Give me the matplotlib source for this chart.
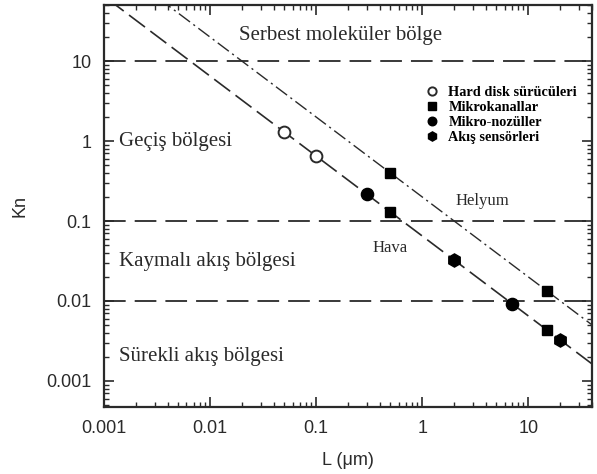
import numpy as np
import matplotlib
matplotlib.use("Agg")
import matplotlib.pyplot as plt
from matplotlib.ticker import LogLocator, NullFormatter, FixedLocator

# mean free path (um) for each gas, Kn = lambda / L
lam_air = 0.065
lam_he = 0.2

# device points (L in um)
hdd_L = [0.05, 0.1]
mchan_air_L = [0.5, 15]
mchan_he_L = [0.5, 15]
nozzle_L = [0.3, 7]
sensor_L = [2, 20]

regime_bounds = [10, 0.1, 0.01]
x_ticks = [0.001, 0.01, 0.1, 1, 10]
x_ticklabels = ["0.001", "0.01", "0.1", "1", "10"]
y_ticks = [0.001, 0.01, 0.1, 1, 10]
y_ticklabels = ["0.001", "0.01", "0.1", "1", "10"]

xmin, xmax = 0.001, 40
ymin, ymax = 4.7e-4, 50

col = "#2a2a2a"
serif = "Liberation Serif"
sans = "Liberation Sans"

fig = plt.figure(figsize=(5.97, 4.74), dpi=100)
ax = fig.add_axes([0.174, 0.141, 0.818, 0.848])
ax.set_xscale("log")
ax.set_yscale("log")
ax.set_xlim(xmin, xmax)
ax.set_ylim(ymin, ymax)

for b in regime_bounds:
    ax.axhline(b, color=col, lw=1.3, dashes=(12, 5))

L = np.logspace(np.log10(xmin), np.log10(xmax), 50)
ax.plot(L, lam_air / L, color=col, lw=1.2, dashes=(12, 4))
ax.plot(L, lam_he / L, color=col, lw=1.0, dashes=(10, 3, 1.5, 3))

ms = 8.5
hdd_Kn = [lam_air / v for v in hdd_L]
ax.plot(hdd_L, hdd_Kn, "o", mfc="white", mec=col, mew=1.4, ms=ms, ls="none",
        label="Hard disk sürücüleri")
ax.plot(mchan_air_L, [lam_air / v for v in mchan_air_L], "s", color="black",
        ms=ms - 0.8, ls="none", label="Mikrokanallar")
ax.plot(mchan_he_L, [lam_he / v for v in mchan_he_L], "s", color="black",
        ms=ms - 0.8, ls="none")
ax.plot(nozzle_L, [lam_air / v for v in nozzle_L], "o", color="black",
        ms=ms + 0.3, ls="none", label="Mikro-nozüller")
ax.plot(sensor_L, [lam_air / v for v in sensor_L], "h", color="black",
        ms=ms + 1, ls="none", label="Akış sensörleri")

leg = ax.legend(loc="upper right", bbox_to_anchor=(0.995, 0.83), frameon=False,
                prop={"family": serif, "size": 10.3, "weight": "bold"},
                handletextpad=0.5, labelspacing=0.12, handlelength=1.3,
                markerscale=0.7)

# regime labels
fs = 15
ax.text(0.17, 21, "Serbest moleküler bölge", family=serif, fontsize=fs,
        color=col, ha="center", va="center")
ax.text(0.0014, 1.0, "Geçiş bölgesi", family=serif, fontsize=fs,
        color=col, ha="left", va="center")
ax.text(0.0014, 0.031, "Kaymalı akış bölgesi", family=serif, fontsize=fs,
        color=col, ha="left", va="center")
ax.text(0.0014, 0.002, "Sürekli akış bölgesi", family=serif, fontsize=fs,
        color=col, ha="left", va="center")
ax.text(3.7, 0.18, "Helyum", family=serif, fontsize=12, color=col,
        ha="center", va="center")
ax.text(0.5, 0.046, "Hava", family=serif, fontsize=12, color=col,
        ha="center", va="center")

ax.xaxis.set_major_locator(FixedLocator(x_ticks))
ax.set_xticklabels(x_ticklabels, family=sans, fontsize=13, color=col)
ax.yaxis.set_major_locator(FixedLocator(y_ticks))
ax.set_yticklabels(y_ticklabels, family=sans, fontsize=13, color=col)
for a in (ax.xaxis, ax.yaxis):
    a.set_minor_locator(LogLocator(base=10, subs=np.arange(2, 10), numticks=20))
    a.set_minor_formatter(NullFormatter())
ax.tick_params(which="both", direction="in", top=True, right=True, colors=col)
ax.tick_params(which="major", length=7, width=1.2, pad=9)
ax.tick_params(which="minor", length=3.5, width=1.0)
for s in ax.spines.values():
    s.set_color(col)
    s.set_linewidth(1.6)

ax.set_xlabel("L (μm)", family=sans, fontsize=13, color=col, labelpad=11)
ax.set_ylabel("Kn", family=sans, fontsize=13, color=col, labelpad=13)

fig.savefig("out.png", dpi=100)
